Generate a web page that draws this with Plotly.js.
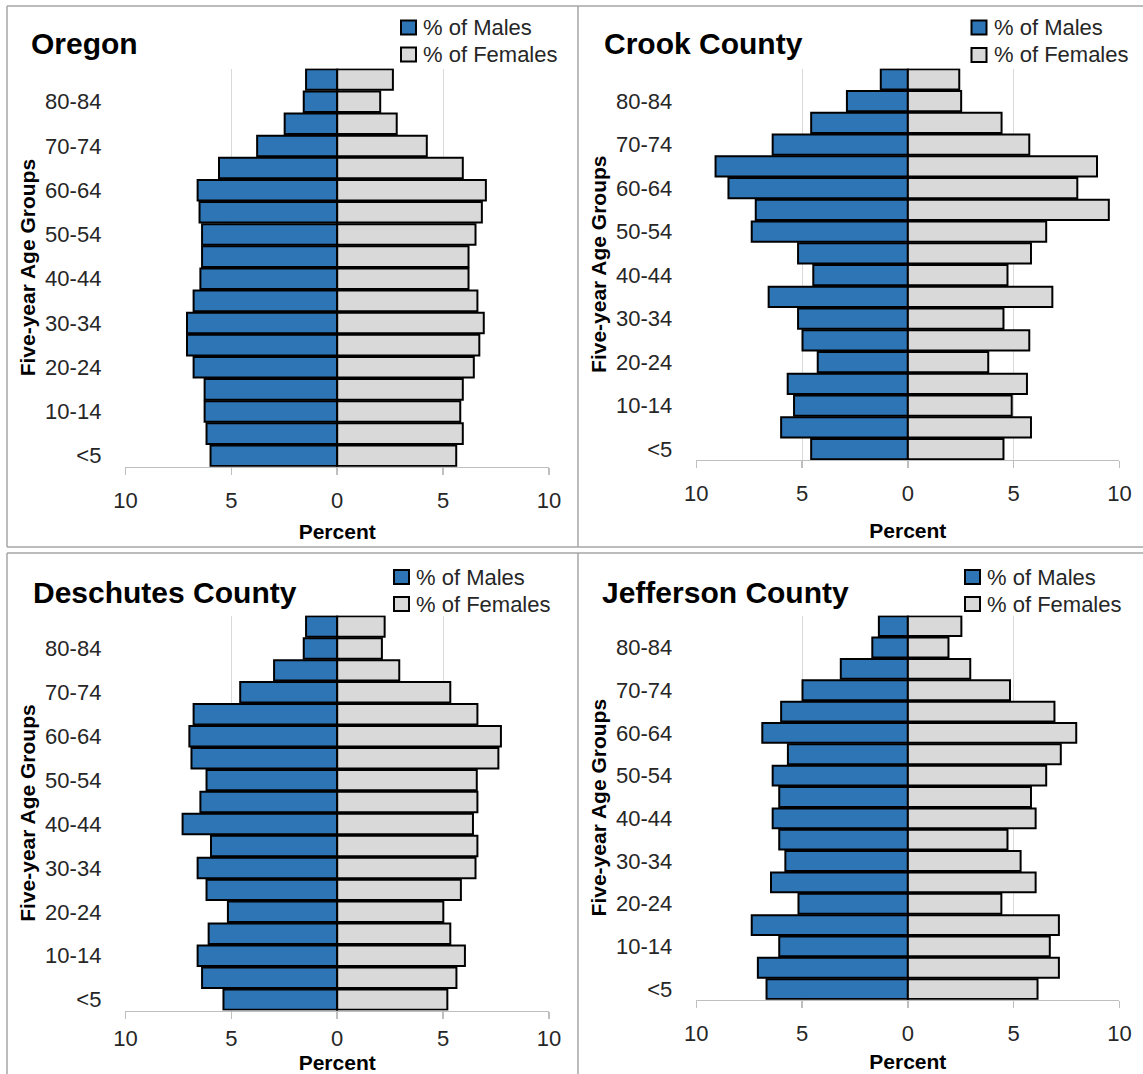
<!DOCTYPE html>
<html>
<head>
<meta charset="utf-8">
<script src="https://cdn.plot.ly/plotly-3.0.1.min.js"></script>
<style>html,body{margin:0;padding:0;background:#fff;}#chart{width:1143px;height:1074px;}</style>
</head>
<body>
<div id="chart"></div>
<script>
// ---- Data (bottom to top: <5 ... 85+) ----
const ageGroups = ['<5','5-9','10-14','15-19','20-24','25-29','30-34','35-39','40-44','45-49','50-54','55-59','60-64','65-69','70-74','75-79','80-84','85+'];
const tickLabels = ['<5','10-14','20-24','30-34','40-44','50-54','60-64','70-74','80-84'];
const percentTicks = [-10, -5, 0, 5, 10];
const percentTickText = ['10', '5', '0', '5', '10'];

const panelTitles = ['Oregon', 'Crook County', 'Deschutes County', 'Jefferson County'];

const oregonMales     = [5.98, 6.17, 6.26, 6.26, 6.78, 7.09, 7.09, 6.78, 6.46, 6.38, 6.38, 6.50, 6.59, 5.58, 3.78, 2.48, 1.58, 1.47];
const oregonFemales   = [5.62, 5.93, 5.81, 5.93, 6.45, 6.71, 6.92, 6.62, 6.20, 6.20, 6.53, 6.83, 7.02, 5.93, 4.23, 2.81, 2.03, 2.63];
const crookMales      = [4.57, 5.99, 5.38, 5.68, 4.26, 4.98, 5.19, 6.58, 4.47, 5.19, 7.38, 7.19, 8.48, 9.09, 6.39, 4.57, 2.88, 1.28];
const crookFemales    = [4.52, 5.82, 4.91, 5.63, 3.80, 5.74, 4.52, 6.83, 4.71, 5.82, 6.54, 9.50, 8.01, 8.94, 5.74, 4.43, 2.52, 2.43];
const deschutesMales  = [5.37, 6.38, 6.59, 6.07, 5.16, 6.17, 6.59, 5.96, 7.30, 6.46, 6.17, 6.88, 6.98, 6.78, 4.58, 2.98, 1.58, 1.47];
const deschutesFemales= [5.20, 5.63, 6.03, 5.34, 5.01, 5.84, 6.53, 6.62, 6.41, 6.62, 6.59, 7.61, 7.73, 6.62, 5.34, 2.93, 2.11, 2.24];
const jeffersonMales  = [6.68, 7.09, 6.08, 7.38, 5.17, 6.47, 5.79, 6.08, 6.39, 6.08, 6.39, 5.67, 6.88, 5.99, 4.98, 3.17, 1.68, 1.37];
const jeffersonFemales= [6.13, 7.14, 6.71, 7.14, 4.42, 6.04, 5.33, 4.71, 6.04, 5.82, 6.54, 7.23, 7.96, 6.93, 4.83, 2.95, 1.92, 2.53];

const maleName = '% of Males';
const femaleName = '% of Females';

// ---- Layout helpers ----
const W = 1143, H = 1074;
const px = v => v / W;
const py = v => 1 - v / H;
const FONT = 'Liberation Sans, Arial, sans-serif';
const MALE_COLOR = '#2e75b6';
const FEMALE_COLOR = '#d9d9d9';
const TEXT_COLOR = '#262626';

const panels = [
  {males: oregonMales, females: oregonFemales, x0:125.4, x1:549, y0:68.5, y1:466.8,
   title:[29,43.5], leg:{sx:401, tx:421, ym:27.5, yf:54.5}, xlab:6, xstand:12},
  {males: crookMales, females: crookFemales, x0:696.3, x1:1119.4, y0:68.5, y1:459.9,
   title:[602,43.5], leg:{sx:971.5, tx:991.5, ym:27.5, yf:55}, xlab:6, xstand:18},
  {males: deschutesMales, females: deschutesFemales, x0:125.4, x1:549, y0:615.5, y1:1010.6,
   title:[31,592], leg:{sx:394, tx:414, ym:577, yf:604}, xlab:0, xstand:9},
  {males: jeffersonMales, females: jeffersonFemales, x0:696.3, x1:1119.4, y0:615.5, y1:999.8,
   title:[600,592], leg:{sx:965, tx:985, ym:577, yf:604}, xlab:6, xstand:9}
];

const data = [];
const layout = {
  width: W, height: H,
  margin: {l:0, r:0, t:0, b:0},
  paper_bgcolor: '#ffffff', plot_bgcolor: '#ffffff',
  barmode: 'relative', bargap: 0.07,
  font: {family: FONT, size: 22, color: TEXT_COLOR},
  hovermode: false, showlegend: false,
  annotations: [], shapes: []
};

panels.forEach((p, i) => {
  const n = i === 0 ? '' : String(i + 1);
  const xa = 'x' + n, ya = 'y' + n;
  data.push({
    type: 'bar', orientation: 'h', name: maleName,
    y: ageGroups, x: p.males.map(v => -v),
    xaxis: xa, yaxis: ya,
    marker: {color: MALE_COLOR, line: {color: '#000000', width: 2}}
  });
  data.push({
    type: 'bar', orientation: 'h', name: femaleName,
    y: ageGroups, x: p.females,
    xaxis: xa, yaxis: ya,
    marker: {color: FEMALE_COLOR, line: {color: '#000000', width: 2}}
  });
  layout['xaxis' + n] = {
    domain: [px(p.x0), px(p.x1)], anchor: ya,
    range: [-10, 10], tickvals: percentTicks, ticktext: percentTickText,
    showgrid: true, gridcolor: '#d9d9d9', gridwidth: 1,
    zeroline: true, zerolinecolor: '#8c8c8c', zerolinewidth: 1.5,
    showline: true, linecolor: '#bfbfbf', linewidth: 1.5,
    ticks: 'outside', ticklen: 7, tickcolor: '#bfbfbf', tickwidth: 1.5,
    ticklabelstandoff: p.xlab,
    tickfont: {family: FONT, size: 22, color: TEXT_COLOR},
    title: {text: 'Percent', font: {family: FONT, size: 21, color: '#000000', weight: 'bold'}, standoff: p.xstand},
    fixedrange: true
  };
  layout['yaxis' + n] = {
    domain: [py(p.y1), py(p.y0)], anchor: xa,
    type: 'category', categoryorder: 'array', categoryarray: ageGroups,
    range: [-0.5, ageGroups.length - 0.5],
    tickvals: tickLabels, ticktext: tickLabels,
    showgrid: false, zeroline: false, showline: false, ticks: '',
    ticklabelstandoff: 23,
    tickfont: {family: FONT, size: 22, color: TEXT_COLOR},
    title: {text: 'Five-year Age Groups', font: {family: FONT, size: 21, color: '#000000', weight: 'bold'}, standoff: 3},
    fixedrange: true
  };
  // panel title
  layout.annotations.push({
    text: '<b>' + panelTitles[i] + '</b>', xref: 'paper', yref: 'paper',
    x: px(p.title[0]), y: py(p.title[1]), xanchor: 'left', yanchor: 'middle',
    showarrow: false, font: {family: FONT, size: 30, color: '#000000'}
  });
  // legend (swatch + label per series)
  [[maleName, MALE_COLOR, p.leg.ym], [femaleName, FEMALE_COLOR, p.leg.yf]].forEach(e => {
    layout.shapes.push({
      type: 'rect', xref: 'paper', yref: 'paper',
      x0: px(p.leg.sx), x1: px(p.leg.sx + 15),
      y0: py(e[2] - 7), y1: py(e[2] + 7),
      fillcolor: e[1], line: {color: '#000000', width: 2}
    });
    layout.annotations.push({
      text: e[0], xref: 'paper', yref: 'paper',
      x: px(p.leg.tx), y: py(e[2]), xanchor: 'left', yanchor: 'middle',
      showarrow: false, font: {family: FONT, size: 22, color: TEXT_COLOR}
    });
  });
});

// Panel frames
const frameColor = '#a6a6a6';
const lines = [
  [7, 6, 1143, 6], [7, 547, 1143, 547], [7, 553, 1143, 553],
  [7, 6, 7, 547], [7, 553, 7, 1074], [578, 6, 578, 547], [578, 553, 578, 1074]
];
lines.forEach(l => layout.shapes.push({
  type: 'line', xref: 'paper', yref: 'paper',
  x0: px(l[0]), y0: py(l[1]), x1: px(l[2]), y1: py(l[3]),
  line: {color: frameColor, width: 1.5}, layer: 'below'
}));

Plotly.newPlot('chart', data, layout, {displayModeBar: false, staticPlot: true});
</script>
</body>
</html>
